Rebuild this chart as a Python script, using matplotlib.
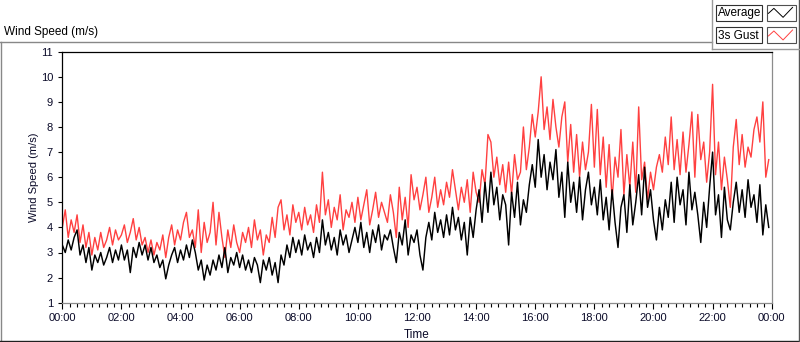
import numpy as np
import matplotlib
matplotlib.use("Agg")
import matplotlib.pyplot as plt
from matplotlib.lines import Line2D
from matplotlib.patches import Rectangle

# ---- data (6-minute samples) ----
minutes = np.arange(0, 1440, 6)

average = [
    3.3, 3.0, 3.5, 3.1, 3.6, 3.9, 2.9, 3.3, 2.6, 3.2,
    2.3, 2.9, 2.6, 3.0, 2.5, 2.8, 3.2, 2.6, 3.1, 2.7,
    3.3, 2.7, 3.1, 2.2, 3.2, 2.8, 3.4, 2.9, 3.3, 2.7,
    3.2, 2.6, 2.9, 2.4, 2.7, 1.95, 2.5, 2.9, 3.2, 2.6,
    3.1, 2.7, 3.3, 2.8, 3.5, 3.0, 2.3, 2.7, 1.9, 2.5,
    2.1, 2.7, 2.3, 2.9, 2.4, 3.2, 2.2, 2.8, 2.5, 3.0,
    2.4, 2.9, 2.3, 2.7, 2.2, 2.8, 2.5, 1.8, 2.7, 2.3,
    2.8, 2.1, 2.6, 1.8, 2.9, 2.5, 3.3, 2.8, 3.6, 3.0,
    3.5, 2.9, 3.7, 3.1, 3.4, 2.8, 3.6, 3.0, 4.3, 3.3,
    3.8, 3.1, 3.6, 2.9, 3.9, 3.3, 3.7, 3.0, 3.5, 4.0,
    3.4, 4.2, 3.2, 3.8, 3.0, 3.9, 3.4, 4.1, 3.1, 3.7,
    3.5, 3.9, 3.2, 2.6, 3.8, 3.3, 4.3, 2.9, 3.7, 3.4,
    3.9, 2.9, 2.3, 3.6, 4.2, 3.5, 4.6, 3.8, 4.3, 3.6,
    4.5, 3.7, 4.8, 3.9, 4.4, 3.5, 4.2, 2.9, 4.4, 3.6,
    4.7, 5.5, 4.2, 5.8, 4.6, 6.2, 4.9, 5.6, 4.3, 5.3,
    4.9, 3.3, 5.4, 4.4, 5.8, 4.1, 5.1, 4.6, 5.7, 6.5,
    5.6, 7.5, 6.0, 6.9, 5.5, 6.6, 5.9, 7.1, 5.2, 6.2,
    4.4, 6.6, 5.0, 5.8, 4.6, 6.0, 4.3, 5.5, 6.2, 4.9,
    5.6, 4.5, 5.9, 4.3, 5.2, 3.9, 5.5, 4.2, 3.2, 4.8,
    5.3, 3.8, 5.7, 4.1, 5.0, 6.1, 4.5, 6.4, 4.8, 5.5,
    4.3, 3.5, 4.8, 3.9, 5.1, 4.4, 5.8, 4.2, 6.0, 4.9,
    5.5, 4.1, 6.2, 4.7, 5.4, 4.5, 3.4, 5.0, 4.0, 5.6,
    7.0, 4.5, 5.3, 3.6, 5.6, 4.3, 3.9, 5.0, 5.8, 4.6,
    5.5, 4.4, 5.9, 4.8, 5.3, 4.2, 5.7, 3.7, 4.9, 4.0,
]

gust = [
    4.0, 4.7, 3.6, 4.3, 3.8, 4.5, 3.4, 4.1, 3.2, 3.8,
    2.9, 3.6, 3.1, 3.8, 3.2, 3.5, 4.0, 3.3, 3.9, 3.5,
    3.7, 4.1, 3.4, 3.8, 4.35, 3.5, 4.0, 3.3, 3.6, 3.0,
    3.5, 2.9, 3.4, 3.1, 3.7, 2.8, 3.6, 4.1, 3.3, 3.9,
    3.5, 4.2, 4.6, 3.6, 3.9, 3.2, 4.7, 3.0, 4.2, 3.4,
    3.8, 5.0, 3.3, 4.6, 3.6, 2.8, 3.9, 3.2, 4.1, 3.4,
    3.0, 3.8, 3.4, 4.0, 3.2, 4.3, 3.5, 3.9, 2.9, 3.7,
    3.4, 4.4, 3.6, 4.8, 5.1, 3.9, 4.5, 3.7, 4.9, 4.2,
    4.6, 3.9, 4.8, 4.1, 4.5, 3.8, 4.9, 4.2, 6.2, 4.5,
    5.1, 4.0, 4.8, 4.3, 5.3, 3.9, 4.7, 4.4, 5.0, 4.2,
    5.2, 4.3, 4.9, 5.5, 4.1, 4.7, 5.4, 4.4, 5.0, 4.6,
    4.2, 5.3, 4.6, 3.6, 5.6, 4.3, 5.2, 4.0, 6.1, 5.1,
    5.6, 4.7, 5.3, 6.0, 4.6, 5.2, 6.0, 4.8, 5.5, 4.9,
    5.8, 5.2, 6.3, 5.5, 4.7, 5.6, 5.0, 5.9, 4.6, 6.2,
    5.4, 5.0, 6.3, 5.7, 7.7, 7.4, 6.0, 6.8, 5.7, 6.5,
    5.4, 6.6, 5.3, 6.9, 5.9, 6.2, 8.0, 6.3, 7.2, 8.5,
    7.6, 8.6, 10.0, 7.9, 8.8, 7.5, 9.1, 8.0, 7.2, 8.4,
    9.0, 6.6, 8.1, 6.2, 7.7, 6.0, 7.4, 6.3, 7.0, 8.9,
    6.4, 8.7, 6.1, 7.6, 5.6, 7.3, 5.1, 6.8, 6.0, 7.9,
    5.3, 6.9, 5.6, 7.4, 5.4, 8.8, 5.9, 6.6, 5.1, 6.2,
    5.5, 6.4, 6.9, 6.2, 7.6, 6.5, 8.4, 6.3, 7.5, 6.1,
    7.8, 6.2, 7.3, 8.6, 6.0, 8.5, 6.7, 7.4, 5.8, 7.0,
    9.7, 6.1, 7.4, 5.5, 6.8, 5.9, 4.8, 7.2, 8.3, 6.5,
    7.7, 6.4, 7.2, 6.8, 7.9, 8.4, 7.4, 9.0, 6.0, 6.7,
]

series_names = ["Average", "3s Gust"]
series_colors = ["#000000", "#ff4040"]
y_ticks = list(range(1, 12))
x_tick_labels = ["00:00", "02:00", "04:00", "06:00", "08:00", "10:00", "12:00",
                 "14:00", "16:00", "18:00", "20:00", "22:00", "00:00"]

# ---- figure ----
W, H = 800, 342
plt.rcParams["font.family"] = ["Liberation Sans", "DejaVu Sans"]
fig = plt.figure(figsize=(W / 100, H / 100), dpi=100)
fig.patch.set_facecolor("white")

def fx(x):
    return x / W

def fy(y):
    return 1 - y / H

TXT = "#0a0a28"

left, right, top, bottom = 62.3, 771.7, 51.7, 302.7
ax = fig.add_axes([fx(left), fy(bottom), fx(right - left), (bottom - top) / H])
hours = minutes / 60.0
ax.plot(hours, gust, color=series_colors[1], lw=1.0, zorder=2)
ax.plot(hours, average, color=series_colors[0], lw=1.05, zorder=3)

ax.set_xlim(0, 24)
ax.set_ylim(1, 11)
ax.set_yticks(y_ticks)
ax.set_yticklabels([str(v) for v in y_ticks])
ax.set_xticks(np.arange(0, 25, 2))
ax.set_xticklabels(x_tick_labels)
ax.set_xticks(np.arange(0, 24.01, 0.25), minor=True)
ax.tick_params(axis="y", direction="out", length=3.2, width=0.8, pad=3.5,
               labelsize=8, colors="black", labelcolor=TXT)
ax.tick_params(axis="x", which="major", direction="out", length=4.5, width=0.8,
               pad=3, labelsize=8, colors="black", labelcolor=TXT)
ax.tick_params(axis="x", which="minor", direction="out", length=2.6, width=0.8,
               colors="black")
for s in ["left", "top"]:
    ax.spines[s].set_color("black")
    ax.spines[s].set_linewidth(0.9)
for s in ["right", "bottom"]:
    ax.spines[s].set_color("#8c8c8c")
    ax.spines[s].set_linewidth(0.9)

ax.set_ylabel("Wind Speed (m/s)", fontsize=8, color=TXT, labelpad=1.5)
ax.set_xlabel("Time", fontsize=8.5, color=TXT, labelpad=4)

# title
fig.text(fx(4), fy(32), "Wind Speed (m/s)", fontsize=8.5, color="black",
         ha="left", va="center")

# outer panel frame
def fline(x0, y0, x1, y1, color, lw=1.0):
    fig.add_artist(Line2D([fx(x0), fx(x1)], [fy(y0), fy(y1)], color=color,
                          lw=lw, transform=fig.transFigure))

fline(0, 42.3, 711.7, 42.3, "#888888")
fline(0.6, 42.3, 0.6, 341, "#888888")
fline(0, 340.6, 800, 340.6, "#202020")
fline(799.3, 0, 799.3, 341, "#555555")
fline(711.7, 0, 711.7, 49, "#9a9a9a")
fline(711.7, 49, 800, 49, "#9a9a9a")

# legend boxes
rows = [(4.7, 20.7), (27.3, 43.3)]
for (y0, y1), name, col in zip(rows, series_names, series_colors):
    fig.add_artist(Rectangle((fx(715.7), fy(y1)), fx(762.3 - 715.7), (y1 - y0) / H,
                             facecolor="white", edgecolor="#303030", lw=0.8,
                             transform=fig.transFigure))
    fig.text(fx(717.5), fy((y0 + y1) / 2 + 0.3), name, fontsize=8.5, color="black",
             ha="left", va="center")
    fig.add_artist(Rectangle((fx(767), fy(y1)), fx(795.7 - 767), (y1 - y0) / H,
                             facecolor="white", edgecolor="#505050", lw=0.8,
                             transform=fig.transFigure))
    bx = [0.05, 0.24, 0.56, 0.89]
    by = [0.46, 0.77, 0.21, 0.83]
    xs = [fx(767 + b * (795.7 - 767)) for b in bx]
    ys = [fy(y1 - b * (y1 - y0)) for b in by]
    fig.add_artist(Line2D(xs, ys, color=col, lw=0.7, transform=fig.transFigure))

fig.savefig("out.png", dpi=100, facecolor="white")
